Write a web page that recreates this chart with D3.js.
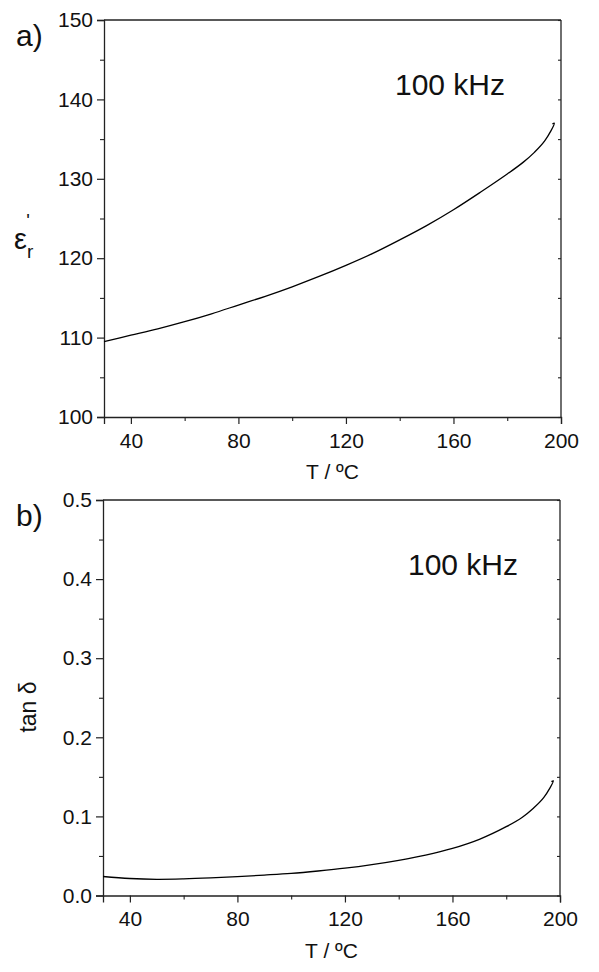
<!DOCTYPE html>
<html>
<head>
<meta charset="utf-8">
<script src="https://cdn.jsdelivr.net/npm/d3@7"></script>
<style>
  html, body { margin: 0; padding: 0; background: #fff; }
  svg text { font-family: Arial, "Liberation Sans", Helvetica, sans-serif; fill: #111; }
</style>
</head>
<body>
<svg id="chart" width="599" height="972"></svg>
<script>
// ---------- data ----------
const freqLabel = "100 kHz";
const xTicksMajor = [40, 80, 120, 160, 200];
const xTicksMinor = [60, 100, 140, 180];

// panel a: real permittivity vs temperature
const tempA = [30, 40, 50, 60, 70, 80, 90, 100, 110, 120, 130, 140, 150, 160, 170, 180, 186, 190, 194, 197.5, 196.8];
const epsA  = [109.5, 110.3, 111.1, 112.0, 113.0, 114.1, 115.2, 116.4, 117.7, 119.1, 120.6, 122.3, 124.1, 126.1, 128.3, 130.6, 132.1, 133.3, 134.8, 137.0, 136.9];
const yTicksA = [100, 110, 120, 130, 140, 150];
const yMinorA = [105, 115, 125, 135, 145];

// panel b: loss tangent vs temperature
const tempB = [30, 40, 50, 60, 70, 80, 90, 100, 110, 120, 130, 140, 150, 160, 170, 180, 186, 190, 194, 197.5, 196.8];
const tanB  = [0.024, 0.0215, 0.0205, 0.021, 0.0222, 0.0238, 0.0258, 0.028, 0.031, 0.0345, 0.039, 0.0445, 0.051, 0.0595, 0.071, 0.087, 0.099, 0.110, 0.124, 0.145, 0.144];
const yTicksB = [0.0, 0.1, 0.2, 0.3, 0.4, 0.5];
const yMinorB = [0.05, 0.15, 0.25, 0.35, 0.45];

// ---------- drawing ----------
const svg = d3.select("#chart");
const axisColor = "#222";

function panel(cfg) {
  const x = d3.scaleLinear().domain([30, 200]).range([cfg.left, cfg.right]);
  const y = d3.scaleLinear().domain(cfg.yDomain).range([cfg.bottom, cfg.top]);
  const g = svg.append("g");

  // frame (top & right)
  g.append("line").attr("x1", cfg.left).attr("x2", cfg.right).attr("y1", cfg.top).attr("y2", cfg.top)
    .attr("stroke", axisColor).attr("stroke-width", 1.3);
  g.append("line").attr("x1", cfg.right).attr("x2", cfg.right).attr("y1", cfg.top).attr("y2", cfg.bottom)
    .attr("stroke", axisColor).attr("stroke-width", 1.3);

  // right axis inward ticks
  const rAx = g.append("g").attr("transform", `translate(${cfg.right},0)`)
    .call(d3.axisLeft(y).tickValues(cfg.yMajor.concat(cfg.yMinor)).tickSize(3).tickFormat(""));
  rAx.select(".domain").remove();
  rAx.selectAll("line").attr("stroke", axisColor).attr("stroke-width", 1.1);

  // bottom axis
  const bx = g.append("g").attr("transform", `translate(0,${cfg.bottom})`)
    .call(d3.axisBottom(x).tickValues(xTicksMajor).tickSize(7).tickPadding(9));
  bx.select(".domain").attr("stroke", axisColor).attr("stroke-width", 1.3);
  bx.selectAll("line").attr("stroke", axisColor).attr("stroke-width", 1.2);
  bx.selectAll("text").attr("font-size", 21).attr("fill", "#111");
  const bxm = g.append("g").attr("transform", `translate(0,${cfg.bottom})`)
    .call(d3.axisBottom(x).tickValues(xTicksMinor).tickSize(4).tickFormat(""));
  bxm.select(".domain").remove();
  bxm.selectAll("line").attr("stroke", axisColor).attr("stroke-width", 1.1);

  // left axis
  const ly = g.append("g").attr("transform", `translate(${cfg.left},0)`)
    .call(d3.axisLeft(y).tickValues(cfg.yMajor).tickSize(7).tickPadding(4).tickFormat(cfg.fmt));
  ly.select(".domain").attr("stroke", axisColor).attr("stroke-width", 1.3);
  ly.selectAll("line").attr("stroke", axisColor).attr("stroke-width", 1.2);
  ly.selectAll("text").attr("font-size", 21).attr("fill", "#111");
  const lym = g.append("g").attr("transform", `translate(${cfg.left},0)`)
    .call(d3.axisLeft(y).tickValues(cfg.yMinor).tickSize(4).tickFormat(""));
  lym.select(".domain").remove();
  lym.selectAll("line").attr("stroke", axisColor).attr("stroke-width", 1.1);

  // curve
  const pts = cfg.xs.map((v, i) => [v, cfg.ys[i]]);
  g.append("path").datum(pts)
    .attr("fill", "none").attr("stroke", "#000").attr("stroke-width", 1.3)
    .attr("d", d3.line().x(d => x(d[0])).y(d => y(d[1])).curve(d3.curveCatmullRom.alpha(0.5)));

  // x title
  g.append("text").attr("x", (cfg.left + cfg.right) / 2).attr("y", cfg.bottom + 62)
    .attr("text-anchor", "middle").attr("font-size", 21).text("T / ºC");

  // panel letter
  g.append("text").attr("x", 16).attr("y", cfg.top + 26).attr("font-size", 30).text(cfg.letter);

  // frequency label
  g.append("text").attr("x", cfg.freqX).attr("y", cfg.top + 75)
    .attr("text-anchor", "middle").attr("font-size", 30).text(freqLabel);

  return {x, y, g};
}

const a = panel({
  left: 104, right: 561, top: 20, bottom: 417,
  yDomain: [100, 150], yMajor: yTicksA, yMinor: yMinorA, fmt: d3.format("d"),
  xs: tempA, ys: epsA, letter: "a)", freqX: 450
});
// y label panel a: ε_r'
const ta = a.g.append("text").attr("x", 14).attr("y", 249).attr("font-size", 29);
ta.append("tspan").text("ε");
ta.append("tspan").attr("font-size", 19).attr("dy", 9).text("r");
ta.append("tspan").attr("font-size", 19).attr("dx", -7).attr("dy", -31).text("'");

const b = panel({
  left: 103, right: 560, top: 500, bottom: 895.5,
  yDomain: [0, 0.5], yMajor: yTicksB, yMinor: yMinorB, fmt: d3.format(".1f"),
  xs: tempB, ys: tanB, letter: "b)", freqX: 463
});
b.g.append("text").attr("transform", "translate(36,707) rotate(-90)")
  .attr("text-anchor", "middle").attr("font-size", 23).text("tan δ");
</script>
</body>
</html>
